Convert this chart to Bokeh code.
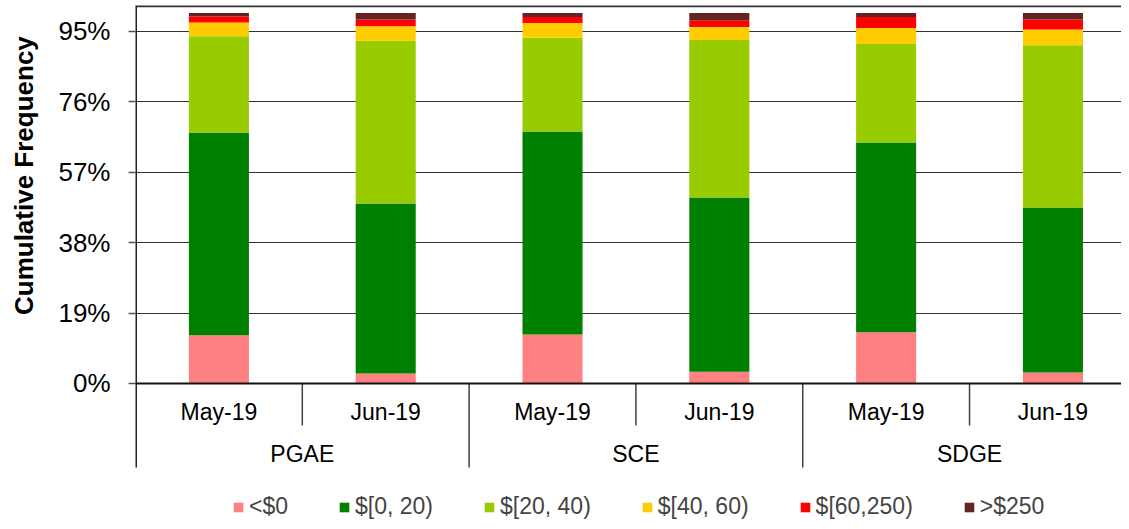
import math
from bokeh.plotting import figure
from bokeh.layouts import row
from bokeh.models import (ColumnDataSource, Range1d, FixedTicker, PrintfTickFormatter,
                          Span, Legend, LegendItem)
from bokeh.core.properties import value
from bokeh.embed import file_html
from bokeh.resources import INLINE

# ---------------- data ----------------
groups = ["PGAE", "SCE", "SDGE"]
months = ["May-19", "Jun-19"]
buckets = ["<$0", "$[0, 20)", "$[20, 40)", "$[40, 60)", "$[60,250)", ">$250"]
colors = ["#FF8080", "#008000", "#99CC00", "#FFCC00", "#FF0000", "#632423"]

# share of each bucket (%), bar order: PGAE May, PGAE Jun, SCE May, SCE Jun, SDGE May, SDGE Jun
below_0 = [13.0, 2.7, 13.2, 3.2, 13.8, 3.0]
b0_20 = [54.7, 45.9, 54.8, 47.0, 51.2, 44.5]
b20_40 = [26.0, 43.9, 25.3, 42.5, 26.6, 43.8]
b40_60 = [3.7, 3.9, 4.0, 3.5, 4.3, 4.2]
b60_250 = [1.6, 1.8, 1.6, 1.8, 3.0, 2.7]
above_250 = [1.0, 1.8, 1.1, 2.0, 1.1, 1.8]

y_ticks = [0, 19, 38, 57, 76, 95]
y_title = "Cumulative Frequency"

# ---------------- layout helpers ----------------
n_m = len(months)
xs = [g * n_m + m + 0.5 for g in range(len(groups)) for m in range(n_m)]
month_labels = [months[m] for g in range(len(groups)) for m in range(n_m)]
group_x = [g * n_m + n_m / 2 for g in range(len(groups))]

Y_TOP = 102.0
Y_BOTTOM = -37.24
TABLE_BOTTOM = -22.67
MONTH_Y = -7.56
GROUP_Y = -18.9
SUB_SEP_Y = -11.33
TITLE_Y = 56.1

series = [below_0, b0_20, b20_40, b40_60, b60_250, above_250]
keys = ["s%d" % i for i in range(len(series))]
data = {"x": xs}
for k, s in zip(keys, series):
    data[k] = s
source = ColumnDataSource(data)

FONT = "Liberation Sans"
y_range = Range1d(Y_BOTTOM, Y_TOP)

# ---------------- main chart ----------------
p = figure(width=1066, height=521,
           x_range=Range1d(0, 5.911), y_range=y_range,
           x_axis_type=None, output_backend="svg", toolbar_location=None,
           min_border_left=80, min_border_right=0, min_border_top=5,
           min_border_bottom=0)
p.outline_line_color = None
p.background_fill_color = "white"

renderers = p.vbar_stack(keys, x="x", width=0.36, source=source,
                         color=colors, line_color=None)

yax = p.yaxis[0]
yax.ticker = FixedTicker(ticks=y_ticks)
yax.formatter = PrintfTickFormatter(format="%d%%")
yax.major_label_text_font = FONT
yax.major_label_text_font_size = "26px"
yax.major_label_text_color = "black"
yax.major_label_standoff = 18
yax.major_tick_out = 7
yax.major_tick_in = 0
yax.major_tick_line_color = "#555555"
yax.major_tick_line_width = 1.5
yax.minor_tick_line_color = None
yax.axis_line_color = None

p.ygrid.grid_line_color = "#333333"
p.ygrid.grid_line_width = 1.2

# x-axis baseline and top border
p.add_layout(Span(location=0, dimension="width", line_color="#111111", line_width=2))
p.add_layout(Span(location=Y_TOP, dimension="width", line_color="#333333", line_width=3.5))

# left vertical edge (y axis line continuing into the category table)
p.segment(x0=[0], y0=[Y_TOP], x1=[0], y1=[TABLE_BOTTOM], line_color="#222222", line_width=3)

# category table below the bars
sub_sep_x = [g * n_m + m for g in range(len(groups)) for m in range(1, n_m)]
grp_sep_x = [g * n_m for g in range(1, len(groups) + 1)]
p.segment(x0=sub_sep_x, y0=[0] * len(sub_sep_x), x1=sub_sep_x, y1=[SUB_SEP_Y] * len(sub_sep_x),
          line_color="#404040", line_width=1.5)
p.segment(x0=grp_sep_x, y0=[0] * len(grp_sep_x), x1=grp_sep_x, y1=[TABLE_BOTTOM] * len(grp_sep_x),
          line_color="#404040", line_width=1.5)
p.text(x=xs, y=[MONTH_Y] * len(xs), text=month_labels, text_align="center",
       text_baseline="middle", text_font=value(FONT), text_font_size="23px",
       text_color="black")
p.text(x=group_x, y=[GROUP_Y] * len(group_x), text=groups, text_align="center",
       text_baseline="middle", text_font=value(FONT), text_font_size="23px",
       text_color="black")

legend = Legend(items=[LegendItem(label=b, renderers=[r]) for b, r in zip(buckets, renderers)],
                location=(97, 1), orientation="horizontal",
                label_text_font=FONT, label_text_font_size="23px",
                glyph_width=12, glyph_height=12, label_standoff=5, spacing=50,
                padding=0, margin=0, border_line_color=None, background_fill_alpha=0)
p.add_layout(legend)

# ---------------- y-axis title strip (shares the y range) ----------------
t = figure(width=55, height=521, x_range=Range1d(0, 55), y_range=y_range,
           x_axis_type=None, y_axis_type=None, output_backend="svg",
           toolbar_location=None, min_border_left=0, min_border_right=0,
           min_border_top=5, min_border_bottom=0)
t.outline_line_color = None
t.grid.visible = False
t.text(x=[23], y=[TITLE_Y], text=[y_title], angle=math.pi / 2, text_align="center",
       text_baseline="middle", text_font=value(FONT), text_font_style="bold",
       text_font_size="26px", text_color="black")

layout = row(t, p, spacing=0)
open("out.html", "w").write(file_html(layout, INLINE))
